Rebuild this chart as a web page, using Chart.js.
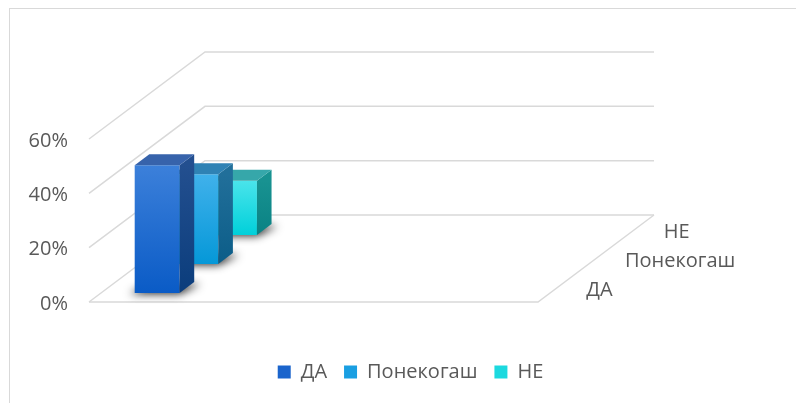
<!DOCTYPE html>
<html>
<head>
<meta charset="utf-8">
<script src="https://cdn.jsdelivr.net/npm/chart.js@4.4.0/dist/chart.umd.min.js"></script>
<style>
  html, body { margin: 0; padding: 0; background: #fff; }
  #wrap { position: relative; width: 796px; height: 403px; overflow: hidden; }
  #frame { position: absolute; left: 9px; top: 8px; width: 1000px; height: 1000px; border: 1px solid #d9d9d9; pointer-events: none; }
</style>
</head>
<body>
<div id="wrap">
  <canvas id="myChart" width="796" height="403"></canvas>
  <div id="frame"></div>
</div>
<script>
	const categories = ['', '', '', ''];
	const seriesNames = ['ДА', 'Понекогаш', 'НЕ'];
	const daValues = [47];
	const ponekogashValues = [33];
	const neValues = [20];
	const yTicks = [0, 20, 40, 60];

	// colours per series: front face gradient, side face gradient, top face, legend box
	const frontTop = ['#3c80da', '#40b1eb', '#4ae4eb'];
	const frontBottom = ['#0a5bc6', '#0598d8', '#00d0da'];
	const sideTop = ['#234f8f', '#216f9a', '#189291'];
	const sideBottom = ['#0b3d7c', '#0c5d88', '#0a8284'];
	const topFace = ['#3763ab', '#2f82b4', '#36a7aa'];
	const legendColors = ['#1a64cc', '#1a9fe2', '#1cd9df'];

	const DEPTH_X = 116, DEPTH_Y = 87;   // depth of the whole floor, px
	const ROWS = 3;
	const BAR_DEPTH = 0.126;             // bar depth as part of the floor depth
	const gridColor = '#d9d9d9';
	const textColor = '#595959';
	const fontFamily = "'Open Sans', sans-serif";
	const fontSize = 20;

	function rowShift(i) {
		const f = (i + 0.5) / ROWS - BAR_DEPTH / 2;
		return [f * DEPTH_X, f * DEPTH_Y];
	}

	// draws the walls, floor, depth labels and the 3d sides of the bars
	const box3d = {
		id: 'box3d',
		afterLayout(chart) {
			// legend sits centred under the whole plot, not only the front plane
			chart.legend.left = 25;
			chart.legend.right = 796;
		},
		beforeDatasetsDraw(chart) {
			const {ctx, chartArea: a, scales: {y}} = chart;
			ctx.save();
			ctx.strokeStyle = gridColor;
			ctx.lineWidth = 1.5;
			yTicks.forEach(v => {
				const py = y.getPixelForValue(v);
				ctx.beginPath();
				ctx.moveTo(a.left, py);
				ctx.lineTo(a.left + DEPTH_X, py - DEPTH_Y);
				ctx.lineTo(a.right + DEPTH_X, py - DEPTH_Y);
				ctx.stroke();
			});
			const y0 = y.getPixelForValue(0);
			ctx.beginPath();
			ctx.moveTo(a.left, y0);
			ctx.lineTo(a.right, y0);
			ctx.lineTo(a.right + DEPTH_X, y0 - DEPTH_Y);
			ctx.stroke();

			ctx.fillStyle = textColor;
			ctx.font = fontSize + 'px ' + fontFamily;
			ctx.textAlign = 'left';
			ctx.textBaseline = 'middle';
			seriesNames.forEach((name, i) => {
				const f = (i + 0.5) / ROWS;
				ctx.fillText(name, a.right + f * DEPTH_X + 29, y0 - f * DEPTH_Y + 3);
			});
			ctx.restore();
		},
		beforeDatasetDraw(chart, args) {
			const ctx = chart.ctx;
			const [sx, sy] = rowShift(args.index);
			const bx = BAR_DEPTH * DEPTH_X, by = BAR_DEPTH * DEPTH_Y;
			const far = 2000;
			ctx.save();
			ctx.translate(sx, -sy);
			// soft shadow on the floor: shape drawn far away, only its shadow lands here
			args.meta.data.forEach(bar => {
				const {x, base, width} = bar.getProps(['x', 'base', 'width'], true);
				const l = x - width / 2 + far, r = x + width / 2 + far;
				ctx.save();
				ctx.shadowColor = 'rgba(0,0,0,0.85)';
				ctx.shadowBlur = 9;
				ctx.shadowOffsetX = -far;
				ctx.shadowOffsetY = 1;
				ctx.fillStyle = '#000';
				ctx.beginPath();
				ctx.moveTo(l - 5, base);
				ctx.lineTo(r, base);
				ctx.lineTo(r + bx + 6, base - by + 1);
				ctx.lineTo(l + bx, base - by);
				ctx.closePath();
				ctx.fill();
				ctx.restore();
			});
		},
		afterDatasetDraw(chart, args) {
			const ctx = chart.ctx;
			const i = args.index;
			const bx = BAR_DEPTH * DEPTH_X, by = BAR_DEPTH * DEPTH_Y;
			args.meta.data.forEach(bar => {
				const {x, y, base, width} = bar.getProps(['x', 'y', 'base', 'width'], true);
				const l = x - width / 2, r = x + width / 2;
				const g = ctx.createLinearGradient(0, y, 0, base);
				g.addColorStop(0, sideTop[i]);
				g.addColorStop(1, sideBottom[i]);
				ctx.fillStyle = g;
				ctx.beginPath();
				ctx.moveTo(r, base);
				ctx.lineTo(r, y);
				ctx.lineTo(r + bx, y - by);
				ctx.lineTo(r + bx, base - by);
				ctx.closePath();
				ctx.fill();

				ctx.fillStyle = topFace[i];
				ctx.beginPath();
				ctx.moveTo(l, y);
				ctx.lineTo(r, y);
				ctx.lineTo(r + bx, y - by);
				ctx.lineTo(l + bx, y - by);
				ctx.closePath();
				ctx.fill();
			});
			ctx.restore();
		}
	};

	function frontGradient(i) {
		return (c) => {
			const ch = c.chart;
			if (!ch.chartArea || c.raw == null) return frontBottom[i];
			const top = ch.scales.y.getPixelForValue(c.raw);
			const bottom = ch.scales.y.getPixelForValue(0);
			const g = ch.ctx.createLinearGradient(0, top, 0, bottom);
			g.addColorStop(0, frontTop[i]);
			g.addColorStop(1, frontBottom[i]);
			return g;
		};
	}

	const allValues = [daValues, ponekogashValues, neValues];

	const data = {
		labels: categories,
		datasets: seriesNames.map((name, i) => ({
			label: name,
			data: allValues[i],
			backgroundColor: frontGradient(i),
			borderWidth: 0,
			grouped: false,
			categoryPercentage: 0.4,
			barPercentage: 1,
			clip: false
		}))
	};

	const config = {
		type: 'bar',
		data,
		plugins: [box3d],
		options: {
			responsive: false,
			animation: false,
			layout: {
				padding: {left: 0, right: 258, top: 139, bottom: 11}
			},
			scales: {
				x: {
					display: true,
					grid: {display: false},
					border: {display: false},
					ticks: {display: false},
					afterFit: (s) => { s.height = 43; }
				},
				y: {
					min: 0,
					max: 60,
					grid: {display: false, drawTicks: false},
					border: {display: false},
					ticks: {
						stepSize: 20,
						padding: 21,
						labelOffset: 2,
						color: textColor,
						font: {family: fontFamily, size: fontSize},
						callback: (v) => v + '%'
					},
					afterFit: (s) => { s.width = 89; }
				}
			},
			plugins: {
				tooltip: {enabled: false},
				legend: {
					position: 'bottom',
					labels: {
						boxWidth: 13,
						boxHeight: 13,
						padding: 17,
						color: textColor,
						font: {family: fontFamily, size: fontSize},
						generateLabels(chart) {
							const items = Chart.defaults.plugins.legend.labels.generateLabels(chart);
							items.forEach((it, k) => {
								it.fillStyle = legendColors[k];
								it.strokeStyle = legendColors[k];
								it.lineWidth = 0;
							});
							return items;
						}
					}
				}
			}
		}
	};

	const myChart = new Chart(
		document.getElementById('myChart'),
		config
	);
</script>
</body>
</html>
